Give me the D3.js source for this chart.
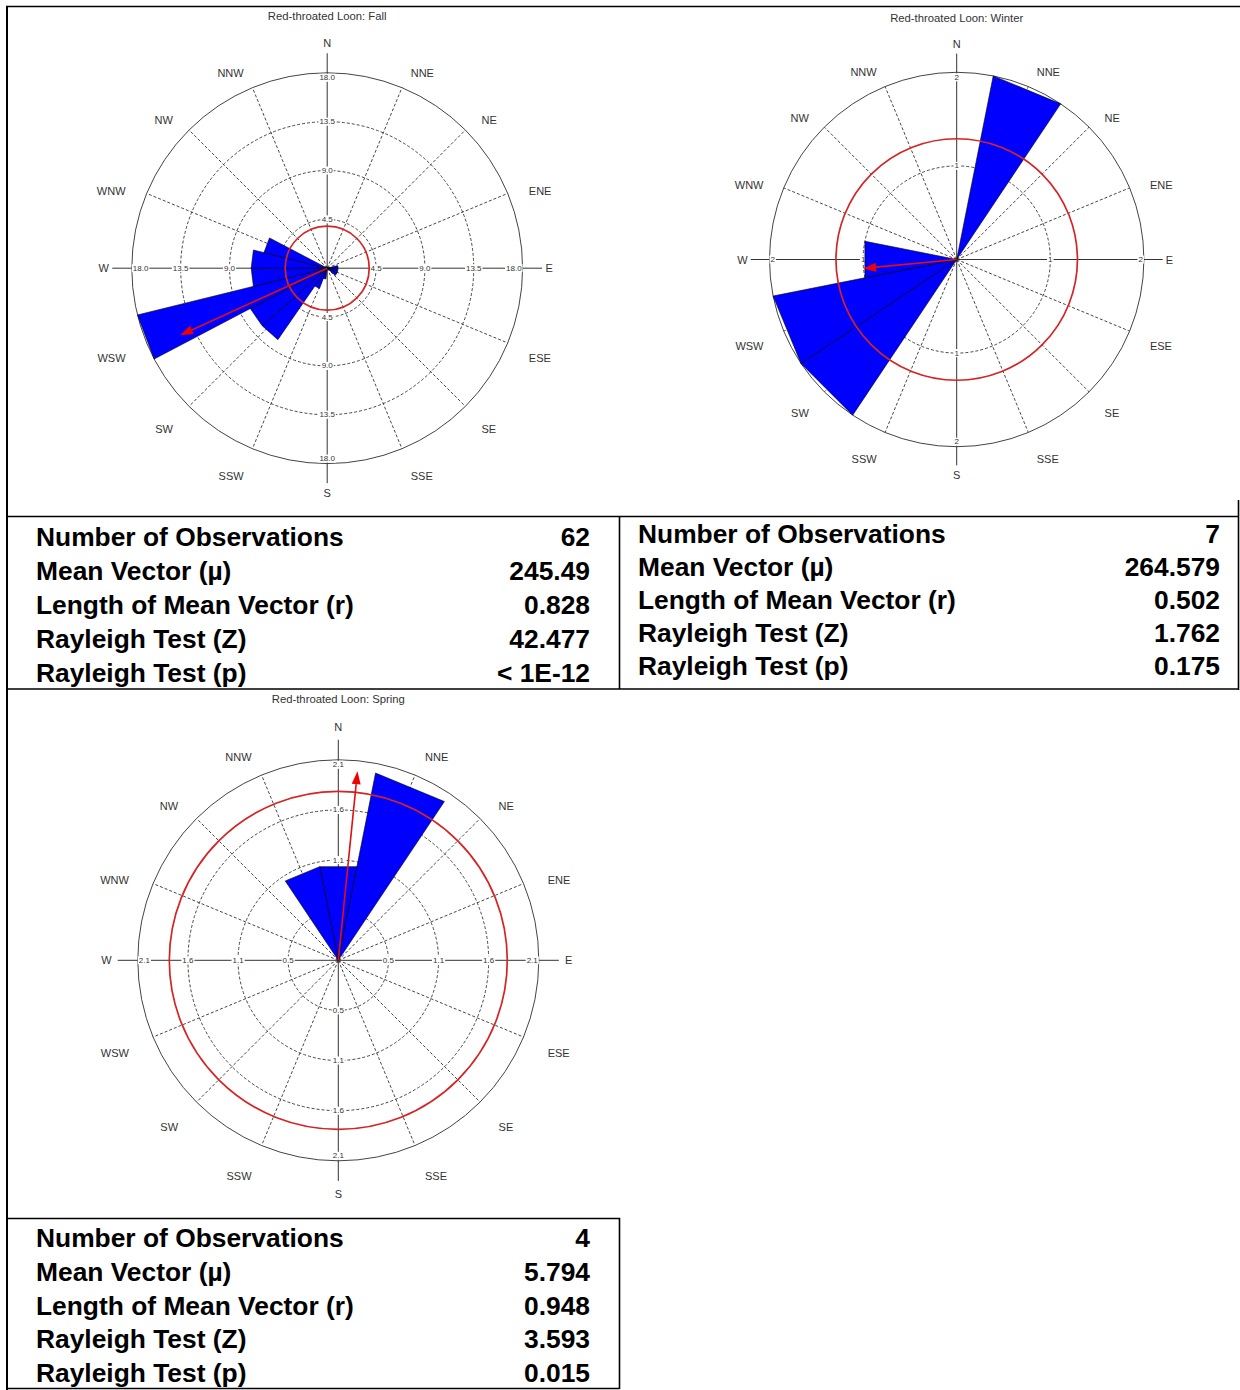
<!DOCTYPE html>
<html>
<head>
<meta charset="utf-8">
<script src="https://cdn.jsdelivr.net/npm/d3@7"></script>
<style>
  body { margin: 0; background: #fff; }
  svg { display: block; }
</style>
</head>
<body>
<div id="chart"></div>
<script>
// compass directions for the 16 grid lines
const compassLabels = ["N", "NNE", "NE", "ENE", "E", "ESE", "SE", "SSE",
  "S", "SSW", "SW", "WSW", "W", "WNW", "NW", "NNW"];

// counts per bin, first bin centred on N, going clockwise
// fall uses 26 bins, winter and spring 16
const fallCounts = [0, 0, 0, 0, 0, 0, 1, 1, 1, 1, 0, 0, 0, 0, 1, 2, 8, 8, 18, 7, 7, 6, 0, 0, 0, 0];
const winterCounts = [0, 2, 0, 0, 0, 0, 0, 0, 0, 0, 2, 2, 1, 0, 0, 0];
const springCounts = [1, 2, 0, 0, 0, 0, 0, 0, 0, 0, 0, 0, 0, 0, 0, 1];

const fallRings = [4.5, 9, 13.5, 18];
const fallRingLabels = ["4.5", "9.0", "13.5", "18.0"];
const winterRings = [1, 2];
const winterRingLabels = ["1", "2"];
const springRings = [0.525, 1.05, 1.575, 2.1];
const springRingLabels = ["0.5", "1.1", "1.6", "2.1"];

// red reference circle, in count units
const fallCircle = 3.87;
const winterCircle = 1.29;
const springCircle = 1.77;

const statNames = ["Number of Observations", "Mean Vector (\u00b5)", "Length of Mean Vector (r)",
  "Rayleigh Test (Z)", "Rayleigh Test (p)"];
const fallStats = ["62", "245.49", "0.828", "42.477", "< 1E-12"];
const winterStats = ["7", "264.579", "0.502", "1.762", "0.175"];
const springStats = ["4", "5.794", "0.948", "3.593", "0.015"];

const width = 1240, height = 1390;
const svg = d3.select("#chart").append("svg")
  .attr("width", width)
  .attr("height", height)
  .style("font-family", "'Liberation Sans', Arial, sans-serif");

const rad = (a) => a * Math.PI / 180;
const pt = (cx, cy, a, rr) => [cx + rr * Math.sin(rad(a)), cy - rr * Math.cos(rad(a))];

function rose(opt) {
  const { cx, cy, R, counts, rings, ringLabels, circle, stats, title } = opt;
  const lf = opt.labelFactor || 1;
  const max = rings[rings.length - 1];
  const r = d3.scaleLinear().domain([0, max]).range([0, R]);
  const ang = d3.scaleLinear().domain([0, counts.length]).range([0, 360]);
  const dir = d3.scaleLinear().domain([0, 16]).range([0, 360]);

  const g = svg.append("g").attr("transform", `translate(${cx},${cy})`);

  svg.append("text")
    .attr("x", cx).attr("y", cy + opt.titleDy)
    .attr("text-anchor", "middle")
    .attr("font-size", 11.3)
    .attr("fill", "#333")
    .text(title);

  // dashed radial lines at the non-cardinal directions
  g.append("g").selectAll("line")
    .data(d3.range(16).filter(i => i % 4 !== 0))
    .join("line")
    .attr("x1", 0).attr("y1", 0)
    .attr("x2", i => R * Math.sin(rad(dir(i))))
    .attr("y2", i => -R * Math.cos(rad(dir(i))))
    .attr("stroke", "#333")
    .attr("stroke-width", 0.9)
    .attr("stroke-dasharray", "3,2");

  // dashed rings
  g.append("g").selectAll("circle")
    .data(rings.slice(0, -1))
    .join("circle")
    .attr("r", d => r(d))
    .attr("fill", "none")
    .attr("stroke", "#333")
    .attr("stroke-width", 0.9)
    .attr("stroke-dasharray", "3,2");

  // outer ring
  g.append("circle")
    .attr("r", R)
    .attr("fill", "none")
    .attr("stroke", "#444")
    .attr("stroke-width", 1);

  // cardinal axes
  const ext = R * 1.1;
  g.append("line").attr("x1", 0).attr("x2", 0).attr("y1", -ext).attr("y2", ext)
    .attr("stroke", "#333").attr("stroke-width", 1);
  g.append("line").attr("y1", 0).attr("y2", 0).attr("x1", -ext).attr("x2", ext)
    .attr("stroke", "#333").attr("stroke-width", 1);

  // ring labels on the four axes
  const lab = g.append("g");
  [0, 90, 180, 270].forEach(a => {
    rings.forEach((v, k) => {
      const last = k === rings.length - 1;
      const t = lab.append("text")
        .attr("font-size", 8)
        .attr("fill", "#333")
        .attr("text-anchor", "middle")
        .attr("dominant-baseline", "central")
        .text(ringLabels[k]);
      const w = t.node().getComputedTextLength();
      let rr = r(v);
      if (last) rr -= (a % 180 === 0) ? 5 : w / 2 + 1;
      const p = pt(0, 0, a, rr);
      t.attr("x", p[0]).attr("y", p[1]);
      lab.insert("rect", () => t.node())
        .attr("x", p[0] - w / 2 - 1).attr("y", p[1] - 4)
        .attr("width", w + 2).attr("height", 8)
        .attr("fill", "#fff");
    });
  });

  // compass labels
  svg.append("g").selectAll("text")
    .data(compassLabels)
    .join("text")
    .attr("font-size", 11)
    .attr("fill", "#333")
    .attr("dominant-baseline", "central")
    .attr("text-anchor", (d, i) => (i % 8 === 0 ? "middle" : i < 8 ? "start" : "end"))
    .attr("x", (d, i) => pt(cx, cy, dir(i), R * 1.117 * lf)[0])
    .attr("y", (d, i) => {
      if (i === 0) return cy - R * 1.152 * lf;
      if (i === 8) return cy + R * 1.152 * lf;
      if (i === 4 || i === 12) return cy;
      return pt(cx, cy, dir(i), R * 1.117 * lf)[1] + 6;
    })
    .text(d => d);

  // wedges
  const wedge = d3.lineRadial()
    .angle(d => rad(d[0]))
    .radius(d => r(d[1]))
    .curve(d3.curveLinearClosed);

  g.append("g").selectAll("path")
    .data(counts.map((v, i) => ({ v, i })).filter(d => d.v > 0))
    .join("path")
    .attr("d", d => wedge([[0, 0], [ang(d.i - 0.5), d.v], [ang(d.i + 0.5), d.v]]))
    .attr("fill", "#0000ff")
    .attr("stroke", "#000")
    .attr("stroke-width", 0.6)
    .attr("stroke-linejoin", "miter");

  // red reference circle
  g.append("circle")
    .attr("r", r(circle))
    .attr("fill", "none")
    .attr("stroke", "#d42424")
    .attr("stroke-width", 1.7);

  // mean vector arrow, length r * scale maximum
  const mu = +stats[1], len = +stats[2] * max;
  const tip = pt(0, 0, mu, r(len));
  const base = pt(0, 0, mu, r(len) - 13);
  const px = Math.cos(rad(mu)) * 4.5, py = Math.sin(rad(mu)) * 4.5;
  g.append("line")
    .attr("x1", 0).attr("y1", 0)
    .attr("x2", base[0]).attr("y2", base[1])
    .attr("stroke", "#e01010")
    .attr("stroke-width", 1.6);
  g.append("path")
    .attr("d", `M${tip[0]},${tip[1]}L${base[0] + px},${base[1] + py}L${base[0] - px},${base[1] - py}Z`)
    .attr("fill", "#f00000");
}

function table(x0, x1, baselines, stats) {
  const t = svg.append("g")
    .attr("font-weight", "bold")
    .attr("font-size", 25)
    .attr("fill", "#000");
  statNames.forEach((name, i) => {
    t.append("text")
      .attr("transform", `translate(${x0},${baselines[i]}) scale(1.055,1)`)
      .text(name);
    t.append("text")
      .attr("transform", `translate(${x1},${baselines[i]}) scale(1.055,1)`)
      .attr("text-anchor", "end")
      .text(stats[i]);
  });
}

rose({ cx: 327.2, cy: 268.2, R: 195.4, counts: fallCounts, rings: fallRings,
  ringLabels: fallRingLabels, circle: fallCircle, stats: fallStats,
  title: "Red-throated Loon: Fall", titleDy: -248 });
rose({ cx: 956.7, cy: 259.5, R: 187.2, counts: winterCounts, rings: winterRings,
  ringLabels: winterRingLabels, circle: winterCircle, stats: winterStats,
  title: "Red-throated Loon: Winter", titleDy: -238 });
rose({ cx: 338.3, cy: 960.3, R: 200.5, counts: springCounts, rings: springRings,
  ringLabels: springRingLabels, circle: springCircle, stats: springStats,
  title: "Red-throated Loon: Spring", titleDy: -257, labelFactor: 1.012 });

table(36, 590, [546, 580, 614, 648, 682], fallStats);
table(638, 1220, [543, 576, 609, 642, 675], winterStats);
table(36, 590, [1247, 1281, 1315, 1348, 1382], springStats);

// frame and table borders
const border = svg.append("g").attr("stroke", "#000").attr("fill", "none");
border.append("path").attr("d", "M6,6.5H1240").attr("stroke-width", 1.5);
border.append("path").attr("d", "M7,6V1390").attr("stroke-width", 2);
border.append("path").attr("d", "M7,516.5H1238.5M619.5,516.5V689M1238.5,500V690M7,689H1238.5")
  .attr("stroke-width", 1.6);
border.append("path").attr("d", "M7,1218.5H619.5V1389M7,1388.5H619.5")
  .attr("stroke-width", 1.6);
</script>
</body>
</html>
